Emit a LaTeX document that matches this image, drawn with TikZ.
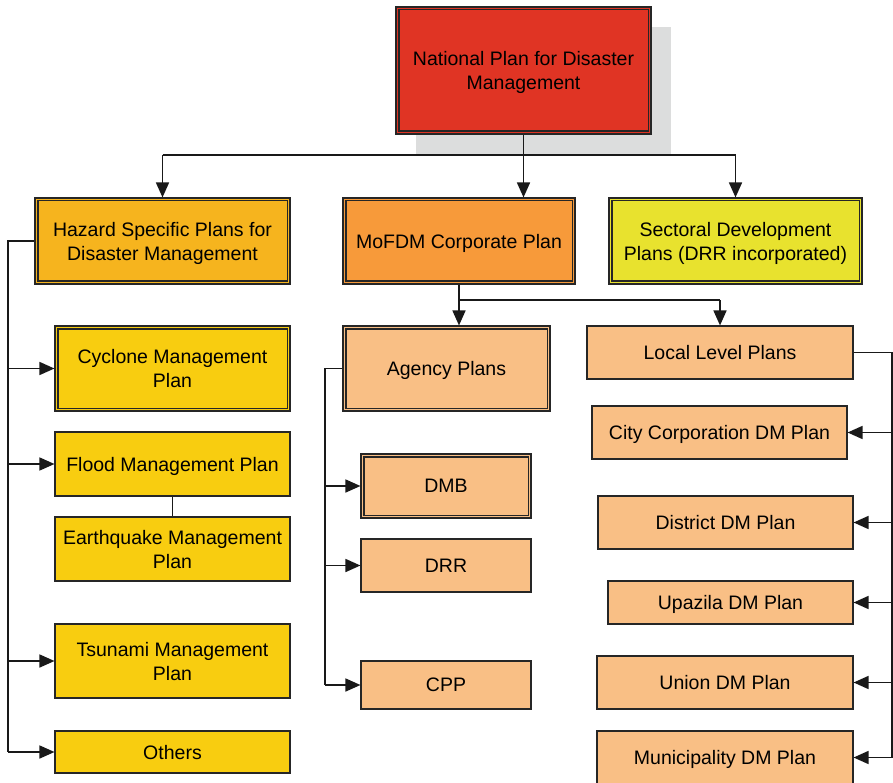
\documentclass[tikz,border=0pt]{standalone}
\usepackage{fontspec}
\setmainfont{Liberation Sans}
\usetikzlibrary{arrows.meta,shadows}

\definecolor{natred}{HTML}{E03424}
\definecolor{hazorange}{HTML}{F6B41E}
\definecolor{mofdmorange}{HTML}{F79A3A}
\definecolor{sectyellow}{HTML}{E8E22E}
\definecolor{hazyellow}{HTML}{F8CD10}
\definecolor{paleorange}{HTML}{F9BF85}
\definecolor{shadowgray}{HTML}{DCDDDD}

\tikzset{
	plan/.style={draw=black!85, line width=1.1pt, align=center, inner sep=0pt,
		text depth=0pt, font=\fontsize{19.5}{24}\selectfont},
	inner border/.style={draw=black!85, line width=1.1pt},
	link/.style={line width=1.6pt, black!90},
	arr/.style={link, -{Triangle[length=15pt,width=13pt]}}
}

\begin{document}
\begin{tikzpicture}[x=1pt,y=-1pt]
	\useasboundingbox (0,0) rectangle (893,783);
	% top level
	\node[plan, fill=natred, minimum width=255pt, minimum height=127pt,
		drop shadow={shadow xshift=20pt, shadow yshift=-20pt, fill=shadowgray, opacity=1}]
		(national) at (523.5,70.5) {National Plan for Disaster\\Management};
	\node[plan, fill=hazorange, minimum width=255pt, minimum height=86pt]
		(hazard) at (162.5,241) {Hazard Specific Plans for\\Disaster Management};
	\node[plan, fill=mofdmorange, minimum width=232pt, minimum height=86pt]
		(mofdm) at (459,241) {MoFDM Corporate Plan};
	\node[plan, fill=sectyellow, minimum width=253pt, minimum height=86pt]
		(sectoral) at (735.5,241) {Sectoral Development\\Plans (DRR incorporated)};

	% hazard plans
	\node[plan, fill=hazyellow, minimum width=235pt, minimum height=85pt]
		(cyclone) at (172.5,368.5) {Cyclone Management\\Plan};
	\node[plan, fill=hazyellow, minimum width=235pt, minimum height=64pt]
		(flood) at (172.5,464) {Flood Management Plan};
	\node[plan, fill=hazyellow, minimum width=235pt, minimum height=64pt]
		(quake) at (172.5,549) {Earthquake Management\\Plan};
	\node[plan, fill=hazyellow, minimum width=235pt, minimum height=74pt]
		(tsunami) at (172.5,661) {Tsunami Management\\Plan};
	\node[plan, fill=hazyellow, minimum width=235pt, minimum height=42pt]
		(others) at (172.5,752) {Others};

	% agency plans
	\node[plan, fill=paleorange, minimum width=207pt, minimum height=85pt]
		(agency) at (446.5,368.5) {Agency Plans};
	\node[plan, fill=paleorange, minimum width=170pt, minimum height=64pt]
		(dmb) at (446,486) {DMB};
	\node[plan, fill=paleorange, minimum width=170pt, minimum height=53pt]
		(drr) at (446,565.5) {DRR};
	\node[plan, fill=paleorange, minimum width=170pt, minimum height=48pt]
		(cpp) at (446,685) {CPP};

	% local plans
	\node[plan, fill=paleorange, minimum width=266pt, minimum height=53pt]
		(local) at (720,352.5) {Local Level Plans};
	\node[plan, fill=paleorange, minimum width=255pt, minimum height=53pt]
		(city) at (719.5,432.5) {City Corporation DM Plan};
	\node[plan, fill=paleorange, minimum width=255pt, minimum height=53pt]
		(district) at (725.5,522.5) {District DM Plan};
	\node[plan, fill=paleorange, minimum width=245pt, minimum height=43pt]
		(upazila) at (730.5,602.5) {Upazila DM Plan};
	\node[plan, fill=paleorange, minimum width=256pt, minimum height=53pt]
		(union) at (725,682.5) {Union DM Plan};
	\node[plan, fill=paleorange, minimum width=256pt, minimum height=53pt]
		(municipality) at (725,757.5) {Municipality DM Plan};

	% inner lines of the double borders
	\foreach \n in {national,hazard,mofdm,sectoral,cyclone,agency,dmb}
		\draw[inner border] ([shift={(3.5pt,-3.5pt)}]\n.north west)
			rectangle ([shift={(-3.5pt,3.5pt)}]\n.south east);

	% connectors from the top
	\coordinate (topsplit) at (523.5,155);
	\draw[link] (national.south) -- (topsplit);
	\draw[link] (topsplit -| hazard.north) -- (topsplit -| sectoral.north);
	\draw[arr] (topsplit -| hazard.north) -- (hazard.north);
	\draw[arr] (topsplit) -- (mofdm.north -| topsplit);
	\draw[arr] (topsplit -| sectoral.north) -- (sectoral.north);

	% MoFDM to agency and local
	\coordinate (midsplit) at (459,300);
	\draw[link] (mofdm.south) -- (midsplit) -- (midsplit -| local.north);
	\draw[arr] (midsplit) -- (agency.north -| midsplit);
	\draw[arr] (midsplit -| local.north) -- (local.north);

	% hazard bus
	\coordinate (hazbus) at (8,241);
	\draw[link] (hazard.west) -- (hazbus) -- (hazbus |- others.west);
	\foreach \n in {cyclone,flood,tsunami,others}
		\draw[arr] (hazbus |- \n.west) -- (\n.west);
	\draw[link] (flood.south) -- (quake.north);

	% agency bus
	\coordinate (agencybus) at (325,368.5);
	\draw[link] (agency.west) -- (agencybus) -- (agencybus |- cpp.west);
	\foreach \n in {dmb,drr,cpp}
		\draw[arr] (agencybus |- \n.west) -- (\n.west);

	% local bus
	\coordinate (localbus) at (892,352.5);
	\draw[link] (local.east) -- (localbus) -- (localbus |- municipality.east);
	\foreach \n in {city,district,upazila,union,municipality}
		\draw[arr] (localbus |- \n.east) -- (\n.east);
\end{tikzpicture}
\end{document}
